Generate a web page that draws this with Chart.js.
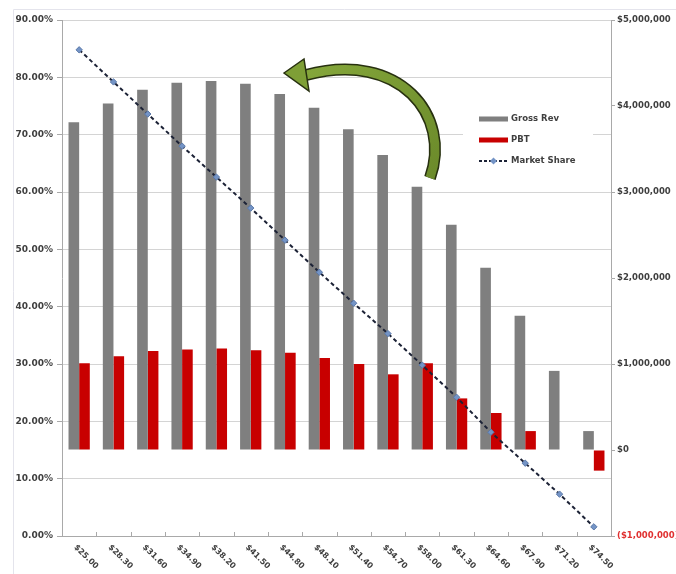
<!DOCTYPE html>
<html>
<head>
<meta charset="utf-8">
<script src="https://cdn.jsdelivr.net/npm/chart.js@4/dist/chart.umd.min.js"></script>
<style>
  html, body { margin: 0; padding: 0; background: #ffffff; }
  #wrap { width: 676px; height: 574px; position: relative; }
</style>
</head>
<body>
<div id="wrap"><canvas id="c" width="676" height="574"></canvas></div>
<script>
// Price points along the category axis
const priceLabels = ['$25.00', '$28.30', '$31.60', '$34.90', '$38.20', '$41.50', '$44.80', '$48.10',
                     '$51.40', '$54.70', '$58.00', '$61.30', '$64.60', '$67.90', '$71.20', '$74.50'];

// Gross revenue per price point (right axis, $)
const grossRev = [3810000, 4030000, 4190000, 4270000, 4290000, 4260000, 4140000, 3980000,
                  3730000, 3430000, 3060000, 2620000, 2120000, 1560000, 920000, 220000];

// Profit before tax per price point (right axis, $)
const pbt = [1010000, 1090000, 1150000, 1170000, 1180000, 1160000, 1130000, 1070000,
             1000000, 880000, 1010000, 600000, 430000, 220000, 0, -240000];

// Market share per price point (left axis, %)
const marketShare = [84.8, 79.2, 73.6, 68.0, 62.6, 57.2, 51.6, 46.0,
                     40.6, 35.3, 29.8, 24.2, 18.1, 12.7, 7.3, 1.6];

// Series names
const seriesNames = ['Gross Rev', 'PBT', 'Market Share'];

const GRAY = '#7f7f7f';
const RED = '#c80000';
const LINE = '#1c2236';
const MARKER = '#7494c6';
const TEXT = '#3f3f3f';
const AXIS = '#a9a9a9';
const GRID = '#d4d4d4';
const FONT = '"DejaVu Sans", sans-serif';

function money(v) {
  const s = '$' + Math.abs(v).toLocaleString('en-US');
  return v < 0 ? '(' + s + ')' : s;
}

// Faint frame, rotated price labels and inside tick marks on the category axis
const decorPlugin = {
  id: 'decor',
  beforeDraw(chart) {
    const ctx = chart.ctx;
    ctx.save();
    ctx.strokeStyle = '#e4e4ec';
    ctx.lineWidth = 1;
    ctx.beginPath();
    ctx.moveTo(13.5, 574);
    ctx.lineTo(13.5, 9.5);
    ctx.lineTo(676, 9.5);
    ctx.stroke();
    ctx.restore();
  },
  afterDraw(chart) {
    const ctx = chart.ctx;
    const xs = chart.scales.x;
    const area = chart.chartArea;
    ctx.save();
    // inside tick marks at category boundaries
    const half = (xs.getPixelForValue(1) - xs.getPixelForValue(0)) / 2;
    ctx.strokeStyle = AXIS;
    ctx.lineWidth = 1;
    ctx.beginPath();
    for (let i = 0; i <= priceLabels.length; i++) {
      const x = Math.round(xs.getPixelForValue(i) - half) + 0.5;
      ctx.moveTo(x, area.bottom);
      ctx.lineTo(x, area.bottom - 4);
    }
    ctx.stroke();
    // price labels, slanted downward
    ctx.fillStyle = TEXT;
    ctx.font = 'bold 8px ' + FONT;
    ctx.textAlign = 'left';
    ctx.textBaseline = 'middle';
    priceLabels.forEach((lab, i) => {
      const x = xs.getPixelForValue(i);
      ctx.save();
      ctx.translate(x - 4, area.bottom + 10);
      ctx.rotate(Math.PI / 4);
      ctx.fillText(lab, 0, 0);
      ctx.restore();
    });
    ctx.restore();
  },
  afterDatasetsDraw(chart) {
    const ctx = chart.ctx;
    ctx.save();
    // legend box
    const lx = 463, ly = 104;
    ctx.fillStyle = '#ffffff';
    ctx.fillRect(lx, ly, 130, 68);
    ctx.font = 'bold 8.5px ' + FONT;
    ctx.textAlign = 'left';
    ctx.textBaseline = 'middle';
    const sx = 479, sw = 29, tx = 511;
    const rows = [119, 140, 161];
    ctx.fillStyle = GRAY;
    ctx.fillRect(sx, rows[0] - 2.5, sw, 5);
    ctx.fillStyle = RED;
    ctx.fillRect(sx, rows[1] - 2.5, sw, 5);
    ctx.strokeStyle = LINE;
    ctx.lineWidth = 2;
    ctx.setLineDash([3, 2]);
    ctx.beginPath();
    ctx.moveTo(sx, rows[2]);
    ctx.lineTo(sx + sw, rows[2]);
    ctx.stroke();
    ctx.setLineDash([]);
    ctx.fillStyle = MARKER;
    ctx.beginPath();
    const mx = sx + sw / 2, my = rows[2];
    ctx.moveTo(mx, my - 3.5); ctx.lineTo(mx + 3.5, my); ctx.lineTo(mx, my + 3.5); ctx.lineTo(mx - 3.5, my);
    ctx.closePath();
    ctx.fill();
    ctx.fillStyle = TEXT;
    seriesNames.forEach((n, i) => ctx.fillText(n, tx, rows[i]));

    // curved green arrow
    const grad = ctx.createLinearGradient(300, 60, 440, 180);
    grad.addColorStop(0, '#86a83c');
    grad.addColorStop(1, '#6b8a2a');
    ctx.lineCap = 'butt';
    ctx.beginPath();
    ctx.moveTo(430, 178);
    ctx.bezierCurveTo(452, 116, 400, 50, 306, 75);
    ctx.strokeStyle = '#27300f';
    ctx.lineWidth = 12;
    ctx.stroke();
    ctx.strokeStyle = grad;
    ctx.lineWidth = 9;
    ctx.stroke();
    ctx.beginPath();
    ctx.moveTo(284, 73);
    ctx.lineTo(304, 59);
    ctx.lineTo(309, 91);
    ctx.closePath();
    ctx.fillStyle = '#7e9f36';
    ctx.fill();
    ctx.strokeStyle = '#27300f';
    ctx.lineWidth = 1.5;
    ctx.stroke();
    ctx.restore();
  }
};

new Chart(document.getElementById('c'), {
  data: {
    labels: priceLabels,
    datasets: [
      {
        type: 'line', label: seriesNames[2], data: marketShare, yAxisID: 'y',
        borderColor: LINE, borderWidth: 2, borderDash: [4, 3], tension: 0,
        pointStyle: 'rectRot', pointRadius: 3.2, pointBackgroundColor: MARKER,
        pointBorderColor: '#5a78a8', pointBorderWidth: 1, order: 0
      },
      {
        type: 'bar', label: seriesNames[0], data: grossRev, yAxisID: 'y2',
        backgroundColor: GRAY, categoryPercentage: 0.62, barPercentage: 1.0, order: 1
      },
      {
        type: 'bar', label: seriesNames[1], data: pbt, yAxisID: 'y2',
        backgroundColor: RED, categoryPercentage: 0.62, barPercentage: 1.0, order: 1
      }
    ]
  },
  options: {
    responsive: false,
    animation: false,
    layout: { padding: { top: 20, left: 0, right: 0, bottom: 0 } },
    plugins: { legend: { display: false }, tooltip: { enabled: false } },
    scales: {
      x: {
        type: 'category', offset: true,
        grid: { display: false, offset: true },
        border: { color: AXIS },
        ticks: { display: false },
        afterFit(s) { s.height = 38; }
      },
      y: {
        position: 'left', min: 0, max: 90,
        ticks: {
          stepSize: 10, padding: 4, color: TEXT,
          font: { family: FONT, size: 9, weight: 'bold' },
          callback: v => v.toFixed(2) + '%'
        },
        grid: { color: GRID, tickColor: AXIS, tickLength: 5 },
        border: { color: AXIS },
        afterFit(s) { s.width = 62; }
      },
      y2: {
        position: 'right', min: -1000000, max: 5000000,
        ticks: {
          stepSize: 1000000, padding: 2,
          color: ctx => (ctx.tick && ctx.tick.value < 0) ? '#e03030' : TEXT,
          font: { family: FONT, size: 8.5, weight: 'bold' },
          callback: v => money(v)
        },
        grid: { drawOnChartArea: false, tickColor: AXIS, tickLength: 4 },
        border: { color: AXIS },
        afterFit(s) { s.width = 65; }
      }
    }
  },
  plugins: [decorPlugin]
});
</script>
</body>
</html>
